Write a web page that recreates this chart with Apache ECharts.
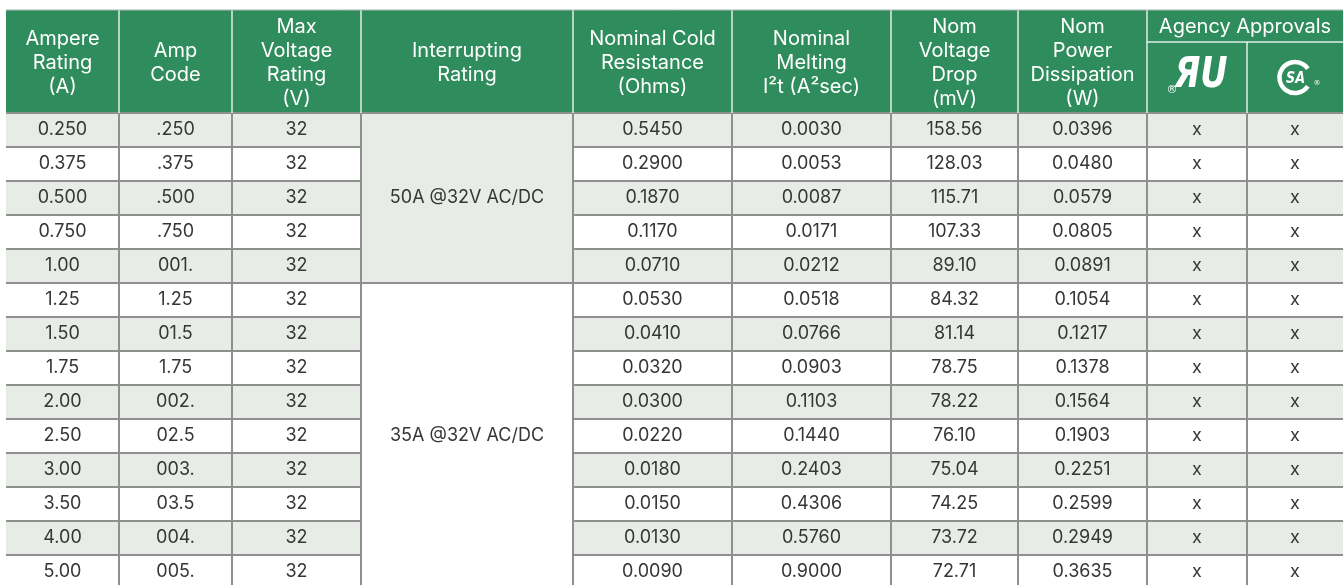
<!DOCTYPE html>
<html><head><meta charset="utf-8">
<script src="https://cdn.jsdelivr.net/npm/echarts@6/dist/echarts.min.js"></script>
<style>html,body{margin:0;padding:0;background:#fff;overflow:hidden}#c{width:1343px;height:585px}</style>
</head><body><div id="c"></div>
<script>
// ---------------- DATA ----------------
const ampereRating = ['0.250','0.375','0.500','0.750','1.00','1.25','1.50','1.75','2.00','2.50','3.00','3.50','4.00','5.00'];
const ampCode = ['.250','.375','.500','.750','001.','1.25','01.5','1.75','002.','02.5','003.','03.5','004.','005.'];
const maxVoltage = [32,32,32,32,32,32,32,32,32,32,32,32,32,32];
const interruptingGroups = [
  { label: '50A @32V AC/DC', from: 0, to: 4 },
  { label: '35A @32V AC/DC', from: 5, to: 13 }
];
const coldResistance = [0.5450,0.2900,0.1870,0.1170,0.0710,0.0530,0.0410,0.0320,0.0300,0.0220,0.0180,0.0150,0.0130,0.0090];
const meltingI2t = [0.0030,0.0053,0.0087,0.0171,0.0212,0.0518,0.0766,0.0903,0.1103,0.1440,0.2403,0.4306,0.5760,0.9000];
const voltageDrop = [158.56,128.03,115.71,107.33,89.10,84.32,81.14,78.75,78.22,76.10,75.04,74.25,73.72,72.71];
const powerDissipation = [0.0396,0.0480,0.0579,0.0805,0.0891,0.1054,0.1217,0.1378,0.1564,0.1903,0.2251,0.2599,0.2949,0.3635];
const ulApproval = ['x','x','x','x','x','x','x','x','x','x','x','x','x','x'];
const csaApproval = ['x','x','x','x','x','x','x','x','x','x','x','x','x','x'];
const headerLabels = ['Ampere\nRating\n(A)','Amp\nCode','Max\nVoltage\nRating\n(V)','Interrupting\nRating',
  'Nominal Cold\nResistance\n(Ohms)','Nominal\nMelting\nI²t (A²sec)','Nom\nVoltage\nDrop\n(mV)','Nom\nPower\nDissipation\n(W)'];
const agencyLabel = 'Agency Approvals';
const agencyMarks = ['UL','CSA'];

// ---------------- LAYOUT / STYLE ----------------
const FONT = 'Inter, "Liberation Sans", sans-serif';
const GREEN = '#2f8c5c', STRIPE = '#e8ece6', LINE = '#8f8f8f', TEXT = '#363636';
const colWidths = [113,113,129,212,159,159,127,129,100,96];
const edges = [0]; colWidths.forEach(w => edges.push(edges[edges.length - 1] + w));
const NROWS = ampereRating.length;
const ROW_PX = 34, HEADER_PX = 103, TOP_PX = 10, CANVAS_H = 585;
const HEADER_ROWS = HEADER_PX / ROW_PX;
const VISIBLE_ROWS = (CANVAS_H - TOP_PX - HEADER_PX) / ROW_PX;
const AGENCY_SPLIT = -HEADER_ROWS + 32 / ROW_PX;

const bodyColumns = [
  ampereRating, ampCode, maxVoltage.map(String), null,
  coldResistance.map(v => v.toFixed(4)), meltingI2t.map(v => v.toFixed(4)),
  voltageDrop.map(v => v.toFixed(2)), powerDissipation.map(v => v.toFixed(4)),
  ulApproval, csaApproval
];

const rects = [], segs = [], labels = [];
rects.push({ x0: 0, x1: edges[10], y0: -HEADER_ROWS, y1: 0, fill: GREEN });
for (let r = 0; r < NROWS; r++) {
  for (let c = 0; c < bodyColumns.length; c++) {
    if (c === 3) continue;
    rects.push({ x0: edges[c], x1: edges[c + 1], y0: r, y1: r + 1, fill: r % 2 === 0 ? STRIPE : '#ffffff' });
    labels.push({ kind: 'text', x: (edges[c] + edges[c + 1]) / 2, y: r + 0.5, text: bodyColumns[c][r], size: 18, color: TEXT });
  }
}
interruptingGroups.forEach((g, i) => {
  rects.push({ x0: edges[3], x1: edges[4], y0: g.from, y1: g.to + 1, fill: i === 0 ? STRIPE : '#ffffff' });
  labels.push({ kind: 'text', x: (edges[3] + edges[4]) / 2, y: (g.from + g.to + 1) / 2, text: g.label, size: 18, color: TEXT });
});
headerLabels.forEach((t, c) => {
  labels.push({ kind: 'text', x: (edges[c] + edges[c + 1]) / 2, y: -HEADER_ROWS / 2, dy: 1.5, text: t, size: 20, color: '#ffffff', lh: 24 });
});
labels.push({ kind: 'text', x: (edges[8] + edges[10]) / 2, y: (-HEADER_ROWS + AGENCY_SPLIT) / 2, dy: 1, text: agencyLabel, size: 20, color: '#ffffff' });
agencyMarks.forEach((m, i) => {
  labels.push({ kind: m, x: (edges[8 + i] + edges[9 + i]) / 2, y: AGENCY_SPLIT / 2 });
});
for (let r = 0; r < NROWS; r++) {
  const inGroupInterior = interruptingGroups.some(g => r > g.from && r <= g.to);
  if (inGroupInterior) {
    segs.push({ x0: 0, x1: edges[3], y0: r, y1: r, color: LINE, w: 2 });
    segs.push({ x0: edges[4], x1: edges[10], y0: r, y1: r, color: LINE, w: 2 });
  } else {
    segs.push({ x0: 0, x1: edges[10], y0: r, y1: r, color: LINE, w: 2 });
  }
}
for (let c = 1; c < 10; c++) segs.push({ x0: edges[c], x1: edges[c], y0: 0, y1: NROWS, color: LINE, w: 2 });
const HDR = 'rgba(255,255,255,0.85)';
for (let c = 1; c < 9; c++) segs.push({ x0: edges[c], x1: edges[c], y0: -HEADER_ROWS, y1: 0, color: HDR, w: 1.5 });
segs.push({ x0: edges[9], x1: edges[9], y0: AGENCY_SPLIT, y1: 0, color: HDR, w: 1.5 });
segs.push({ x0: edges[8], x1: edges[10], y0: AGENCY_SPLIT, y1: AGENCY_SPLIT, color: HDR, w: 1.5 });
segs.push({ x0: 0, x1: edges[10], y0: -HEADER_ROWS, y1: -HEADER_ROWS, color: '#a9b8ae', w: 1 });

function drawLabel(d, api) {
  const p = api.coord([d.x, d.y]);
  const cx = p[0], cy = p[1] + (d.dy || 0);
  if (d.kind === 'text') {
    return { type: 'text', x: cx, y: cy, style: {
      text: d.text, fill: d.color, fontFamily: FONT, fontSize: d.size, lineHeight: d.lh || d.size * 1.2,
      align: 'center', verticalAlign: 'middle' } };
  }
  if (d.kind === 'UL') {
    return { type: 'group', children: [
      { type: 'text', x: cx + 4, y: cy - 1, scaleX: 0.8, style: { text: 'ЯU', fill: '#fff', fontFamily: 'DejaVu Sans',
        fontWeight: 'bold', fontStyle: 'italic', fontSize: 42, align: 'center', verticalAlign: 'middle' } },
      { type: 'text', x: cx - 25, y: cy + 13, style: { text: '®', fill: '#fff', fontFamily: 'DejaVu Sans',
        fontSize: 11, align: 'center', verticalAlign: 'middle' } }
    ] };
  }
  return { type: 'group', children: [
    { type: 'arc', shape: { cx: cx, cy: cy, r: 15.5, startAngle: 0.6, endAngle: Math.PI * 2 - 0.6, clockwise: true },
      style: { stroke: '#fff', lineWidth: 4.5, fill: null } },
    { type: 'text', x: cx + 0.5, y: cy + 1, scaleX: 0.8, style: { text: 'SA', fill: '#fff', fontFamily: 'DejaVu Sans',
      fontWeight: 'bold', fontStyle: 'italic', fontSize: 16, align: 'center', verticalAlign: 'middle' } },
    { type: 'text', x: cx + 22, y: cy + 6, style: { text: '®', fill: '#fff', fontFamily: 'DejaVu Sans',
      fontSize: 7, align: 'center', verticalAlign: 'middle' } }
  ] };
}

const chart = echarts.init(document.getElementById('c'), null, { renderer: 'canvas' });
chart.setOption({
  animation: false,
  grid: { left: 6, right: 0, top: TOP_PX, bottom: 0, containLabel: false },
  xAxis: { type: 'value', min: 0, max: edges[10], show: false },
  yAxis: { type: 'value', min: -HEADER_ROWS, max: VISIBLE_ROWS, inverse: true, show: false },
  series: [
    { type: 'custom', name: 'cells', silent: true, clip: false, data: rects.map(d => [d.x0, d.y0]),
      renderItem: (params, api) => {
        const d = rects[params.dataIndex];
        const p0 = api.coord([d.x0, d.y0]), p1 = api.coord([d.x1, d.y1]);
        return { type: 'rect', shape: { x: p0[0], y: p0[1], width: p1[0] - p0[0], height: p1[1] - p0[1] }, style: { fill: d.fill } };
      } },
    { type: 'custom', name: 'rules', silent: true, clip: false, data: segs.map(d => [d.x0, d.y0]),
      renderItem: (params, api) => {
        const d = segs[params.dataIndex];
        const p0 = api.coord([d.x0, d.y0]), p1 = api.coord([d.x1, d.y1]);
        return { type: 'line', shape: { x1: p0[0], y1: p0[1], x2: p1[0], y2: p1[1] }, style: { stroke: d.color, lineWidth: d.w } };
      } },
    { type: 'custom', name: 'labels', silent: true, clip: false, data: labels.map(d => [d.x, d.y]),
      renderItem: (params, api) => drawLabel(labels[params.dataIndex], api) }
  ]
});
</script></body></html>
